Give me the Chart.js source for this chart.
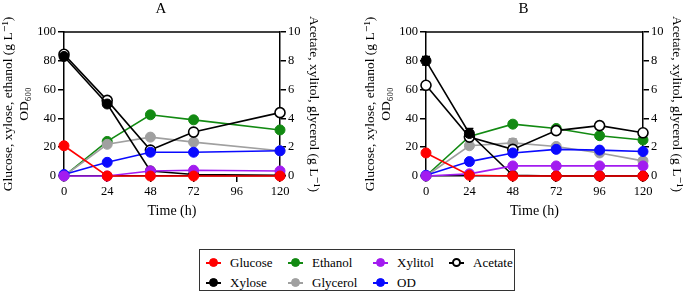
<!DOCTYPE html>
<html><head><meta charset="utf-8">
<script src="https://cdn.jsdelivr.net/npm/chart.js@4.4.0/dist/chart.umd.min.js"></script>
<style>
html,body{margin:0;padding:0;background:#fff;width:685px;height:292px;overflow:hidden;font-family:"Liberation Serif",Tinos,"Times New Roman",Times,"Nimbus Roman","DejaVu Serif",serif;}
#ca{position:absolute;left:0;top:0;}
#cb{position:absolute;left:345px;top:0;}
#legend{position:absolute;left:199px;top:249px;width:316px;height:42px;border:1px solid #333;box-sizing:border-box;}
.it{position:absolute;height:16px;font-size:13px;line-height:16px;color:#000;white-space:nowrap;}
.mk{position:absolute;left:0;top:7px;width:15px;height:2px;}
.dot{position:absolute;left:3px;top:3px;width:9px;height:9px;border-radius:50%;box-sizing:border-box;}
.tx{position:absolute;left:24px;top:0;}
</style>
</head><body>
<canvas id="ca" width="345" height="220"></canvas>
<canvas id="cb" width="340" height="220"></canvas>
<div id="legend"></div>
<script>
// ---- Data: panel A ----
const timeA     = [0, 24, 48, 72, 120];
const glucoseA  = [21, 0, 0, 0, 0];
const xyloseA   = [83, 50, 3.5, 1, 0.5];
const ethanolA  = [0, 24, 42.5, 39, 32];
const odA       = [1, 9.5, 16.5, 16.5, 17.5];
const glycerolA = [0, 2.2, 2.7, 2.35, 1.75];
const xylitolA  = [0, 0, 0.35, 0.4, 0.35];
const acetateA  = [8.45, 5.25, 1.8, 3.05, 4.4];

// ---- Data: panel B ----
const timeB       = [0, 24, 48, 72, 96, 120];
const glucoseB    = [16, 0.5, 0, 0, 0, 0];
const xyloseB     = [80, 29.5, 0.5, 0, 0, 0];
const xyloseErrB  = [3, 3.5, 0, 0, 0, 0];
const ethanolB    = [0, 27.5, 36, 33, 28, 25];
const odB         = [0.5, 10, 16, 18.5, 18, 17];
const glycerolB   = [0, 2.1, 2.3, 2.05, 1.6, 1.05];
const glycerolErrB= [0, 0.1, 0.3, 0, 0, 0];
const xylitolB    = [0, 0.15, 0.7, 0.7, 0.7, 0.7];
const acetateB    = [6.3, 2.7, 1.85, 3.15, 3.5, 3.0];

// ---- Tick / label text ----
const xTicks = [0, 24, 48, 72, 96, 120];
const leftTitle = ['Glucose, xylose, ethanol (g L\u207B\u00B9)', 'OD\u2086\u2080\u2080'];
const rightTitle = 'Acetate, xylitol, glycerol (g L\u207B\u00B9)';
const xTitle = 'Time (h)';
const seriesNames = ['Glucose','Xylose','Ethanol','Glycerol','Xylitol','OD','Acetate'];

const F = '"Liberation Serif", Tinos, "Times New Roman", Times, "Nimbus Roman", "DejaVu Serif", serif';
const COL = {Glucose:'#ff0000', Xylose:'#000000', Ethanol:'#128a12', Glycerol:'#a0a0a0', Xylitol:'#a21cf0', OD:'#0a0aff', Acetate:'#000000'};

function pts(t, v){ return t.map((x,i)=>({x:x, y:v[i]})); }
function ds(name, t, v, axis, err){
  const open = name === 'Acetate';
  return {
    label: name, data: pts(t, v), yAxisID: axis, errors: err || null,
    borderColor: COL[name], backgroundColor: open ? '#ffffff' : COL[name],
    pointBackgroundColor: open ? '#ffffff' : COL[name],
    pointBorderColor: COL[name], pointBorderWidth: open ? 1.6 : 1,
    pointRadius: 5, borderWidth: 1.6, tension: 0, clip: false
  };
}

const frame = {
  id: 'frame',
  afterDraw(chart){
    const a = chart.chartArea, c = chart.ctx;
    c.save(); c.strokeStyle = '#000'; c.lineWidth = 1.5;
    c.beginPath(); c.moveTo(a.left, a.top); c.lineTo(a.right, a.top); c.stroke();
    c.restore();
  },
  beforeDatasetsDraw(chart){
    const c = chart.ctx;
    chart.data.datasets.forEach((d, i) => {
      if (!d.errors) return;
      const sc = chart.scales[d.yAxisID], sx = chart.scales.x;
      c.save(); c.strokeStyle = d.borderColor; c.lineWidth = 1.3;
      d.data.forEach((p, j) => {
        const e = d.errors[j]; if (!e) return;
        const x = sx.getPixelForValue(p.x);
        const y1 = sc.getPixelForValue(p.y + e), y2 = sc.getPixelForValue(p.y - e);
        c.beginPath(); c.moveTo(x, y1); c.lineTo(x, y2);
        c.moveTo(x-4, y1); c.lineTo(x+4, y1); c.moveTo(x-4, y2); c.lineTo(x+4, y2); c.stroke();
      });
      c.restore();
    });
  }
};

function axisCommon(){
  return {
    grid: {display:true, drawOnChartArea:false, drawTicks:true, tickLength:6, color:'#000', lineWidth:1.5},
    border: {display:true, color:'#000', width:1.5}
  };
}

function opts(title, padL, padR){
  return {
    responsive:false, animation:false, devicePixelRatio:1,
    layout:{padding:{left:padL, right:padR, top:0, bottom:0}},
    plugins:{
      legend:{display:false}, tooltip:{enabled:false},
      title:{display:true, text:title, color:'#000', font:{family:F, size:15, weight:'normal'}, padding:{top:0, bottom:14}}
    },
    scales:{
      x: Object.assign(axisCommon(), {
        type:'linear', min:0, max:120,
        afterBuildTicks(s){ s.ticks = xTicks.map(v=>({value:v})); },
        ticks:{color:'#000', font:{family:F, size:12.5}, padding:2, maxRotation:0},
        title:{display:true, text:xTitle, color:'#000', font:{family:F, size:14}, padding:{top:3, bottom:0}},
        afterFit(s){ s.height = 44; }
      }),
      y: Object.assign(axisCommon(), {
        position:'left', min:0, max:100,
        ticks:{stepSize:20, color:'#000', font:{family:F, size:12.5}, padding:2},
        title:{display:true, text:leftTitle, color:'#000', font:{family:F, size:13.5}, padding:{top:0, bottom:2}},
        afterFit(s){ s.width = 64; }
      }),
      y2: Object.assign(axisCommon(), {
        position:'right', min:0, max:10,
        ticks:{stepSize:2, color:'#000', font:{family:F, size:12.5}, padding:2},
        title:{display:true, text:rightTitle, color:'#000', font:{family:F, size:13.5}, padding:{top:0, bottom:2}},
        afterFit(s){ s.width = 42; }
      })
    }
  };
}

new Chart(document.getElementById('ca'), {
  type:'line',
  data:{datasets:[
    ds('Glucose', timeA, glucoseA, 'y'),
    ds('Xylitol', timeA, xylitolA, 'y2'),
    ds('Xylose', timeA, xyloseA, 'y'),
    ds('OD', timeA, odA, 'y'),
    ds('Acetate', timeA, acetateA, 'y2'),
    ds('Glycerol', timeA, glycerolA, 'y2'),
    ds('Ethanol', timeA, ethanolA, 'y')
  ]},
  options: opts('A', 0, 23),
  plugins:[frame]
});

new Chart(document.getElementById('cb'), {
  type:'line',
  data:{datasets:[
    ds('Glucose', timeB, glucoseB, 'y'),
    ds('Xylitol', timeB, xylitolB, 'y2'),
    ds('Xylose', timeB, xyloseB, 'y', xyloseErrB),
    ds('OD', timeB, odB, 'y'),
    ds('Acetate', timeB, acetateB, 'y2'),
    ds('Glycerol', timeB, glycerolB, 'y2', glycerolErrB),
    ds('Ethanol', timeB, ethanolB, 'y')
  ]},
  options: opts('B', 17, 0),
  plugins:[frame]
});

// ---- Shared legend ----
const legendPos = {Glucose:[6,5], Xylose:[6,25], Ethanol:[88,5], Glycerol:[88,25], Xylitol:[173,5], OD:[173,25], Acetate:[249,5]};
const lg = document.getElementById('legend');
seriesNames.forEach(n => {
  const p = legendPos[n], open = n === 'Acetate';
  const it = document.createElement('div'); it.className = 'it';
  it.style.left = p[0] + 'px'; it.style.top = p[1] + 'px';
  const mk = document.createElement('div'); mk.className = 'mk'; mk.style.background = COL[n];
  const dot = document.createElement('div'); dot.className = 'dot';
  dot.style.background = open ? '#fff' : COL[n];
  dot.style.border = (open ? '2px' : '1px') + ' solid ' + COL[n];
  const tx = document.createElement('span'); tx.className = 'tx'; tx.textContent = n;
  it.appendChild(mk); it.appendChild(dot); it.appendChild(tx); lg.appendChild(it);
});
</script>
</body></html>
